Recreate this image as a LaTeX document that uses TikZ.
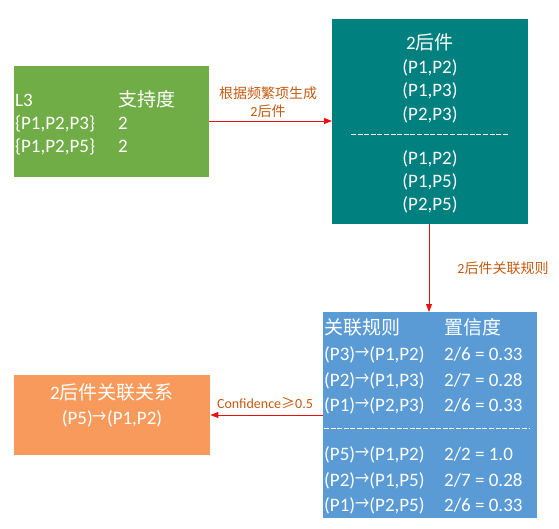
\documentclass[tikz,border=0pt]{standalone}
\usepackage{fontspec}
\setmainfont{Carlito}
\newfontfamily\zhf{Noto Sans CJK SC}
\newcommand{\zh}[1]{{\zhf #1}}
\newcommand{\rarr}{{\zhf\raisebox{0.05em}{\scalebox{0.75}[1]{→}}}}
\usetikzlibrary{arrows.meta}
\definecolor{cgreen}{HTML}{70AD47}
\definecolor{cteal}{HTML}{00807F}
\definecolor{cblue}{HTML}{5B9BD5}
\definecolor{corange}{HTML}{F79A5B}
\definecolor{clabel}{HTML}{C55A11}
\definecolor{cred}{HTML}{E81010}
\tikzset{
  box/.style={draw=none, inner sep=0pt, anchor=north west},
  txt/.style={text=white, inner sep=0pt, font=\fontsize{19}{22}\selectfont},
  lbl/.style={text=clabel, inner sep=0pt, font=\fontsize{14}{17}\selectfont, align=center},
  conn/.style={draw=cred, line width=0.9pt, -{Triangle[length=8pt,width=6pt]}},
  sep/.style={draw=white, line width=0.6pt, dash pattern=on 5pt off 1.6pt}
}
\begin{document}
\begin{tikzpicture}[x=1pt,y=-1pt]
\useasboundingbox (0,0) rectangle (559,528);
% boxes
\node[box, fill=cgreen, minimum width=195pt, minimum height=111pt] (g) at (14,66) {};
\node[box, fill=cteal, minimum width=196pt, minimum height=205pt] (t) at (332,19) {};
\node[box, fill=cblue, minimum width=214pt, minimum height=206pt] (b) at (323,312) {};
\node[box, fill=corange, minimum width=196pt, minimum height=80pt] (o) at (14,375) {};
% green text
\node[txt, anchor=base west] (g1) at (15,106) {L3};
\node[txt, anchor=base west] (g2) at (118,106) {\zh{支持度}};
\node[txt, anchor=base west] (g3) at (15,129) {\{P1,P2,P3\}};
\node[txt, anchor=base west] (g4) at (118,129) {2};
\node[txt, anchor=base west] (g5) at (15,152) {\{P1,P2,P5\}};
\node[txt, anchor=base west] (g6) at (118,152) {2};
% teal text
\node[txt, anchor=base] (t1) at (430,49) {2\zh{后件}};
\node[txt, anchor=base] (t2) at (430,73) {(P1,P2)};
\node[txt, anchor=base] (t3) at (430,96) {(P1,P3)};
\node[txt, anchor=base] (t4) at (430,120) {(P2,P3)};
\coordinate (ts1) at (351,134);
\coordinate (ts2) at (509,134);
\draw[sep] (ts1) -- (ts2);
\node[txt, anchor=base] (t5) at (430,164) {(P1,P2)};
\node[txt, anchor=base] (t6) at (430,187) {(P1,P5)};
\node[txt, anchor=base] (t7) at (430,210) {(P2,P5)};
% blue text
\node[txt, anchor=base west] (b1) at (324,334) {\zh{关联规则}};
\node[txt, anchor=base west] (b2) at (444,334) {\zh{置信度}};
\node[txt, anchor=base west] (b3) at (324,360) {(P3)\rarr(P1,P2)};
\node[txt, anchor=base west] (b4) at (444,360) {2/6 = 0.33};
\node[txt, anchor=base west] (b5) at (324,386) {(P2)\rarr(P1,P3)};
\node[txt, anchor=base west] (b6) at (444,386) {2/7 = 0.28};
\node[txt, anchor=base west] (b7) at (324,411) {(P1)\rarr(P2,P3)};
\node[txt, anchor=base west] (b8) at (444,411) {2/6 = 0.33};
\coordinate (bs1) at (324,428);
\coordinate (bs2) at (529,428);
\draw[sep] (bs1) -- (bs2);
\node[txt, anchor=base west] (b9) at (324,460) {(P5)\rarr(P1,P2)};
\node[txt, anchor=base west] (b10) at (444,460) {2/2 = 1.0};
\node[txt, anchor=base west] (b11) at (324,486) {(P2)\rarr(P1,P5)};
\node[txt, anchor=base west] (b12) at (444,486) {2/7 = 0.28};
\node[txt, anchor=base west] (b13) at (324,511) {(P1)\rarr(P2,P5)};
\node[txt, anchor=base west] (b14) at (444,511) {2/6 = 0.33};
% orange text
\node[txt, anchor=base] (o1) at (112,399) {2\zh{后件关联关系}};
\node[txt, anchor=base] (o2) at (112,424) {(P5)\rarr(P1,P2)};
% connectors
\draw[conn] (g.east |- 0,121) -- (t.west |- 0,121);
\draw[conn] (t.south -| 429,0) -- (b.north -| 429,0);
\draw[conn] (b.west |- 0,415) -- (o.east |- 0,415);
% labels
\node[lbl, anchor=base] (l1) at (268,98) {\zh{根据频繁项生成}};
\node[lbl, anchor=base] (l2) at (268,116) {2\zh{后件}};
\node[lbl, anchor=base] (l3) at (503,273) {2\zh{后件关联规则}};
\node[lbl, anchor=base] (l4) at (265,408) {Confidence\zh{≥}0.5};
\end{tikzpicture}
\end{document}
